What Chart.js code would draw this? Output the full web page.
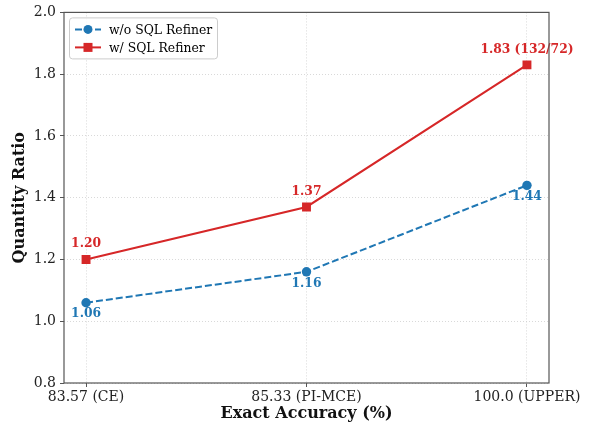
<!DOCTYPE html>
<html><head><meta charset="utf-8">
<script src="https://cdn.jsdelivr.net/npm/chart.js@4/dist/chart.umd.min.js"></script>
<style>html,body{margin:0;padding:0;background:#fff}#wrap{width:592px;height:428px}</style>
</head><body><div id="wrap"><canvas id="c" width="592" height="428"></canvas></div>
<script>
const categories = ["83.57 (CE)", "85.33 (PI-MCE)", "100.0 (UPPER)"];
const seriesNames = ["w/o SQL Refiner", "w/ SQL Refiner"];
const withoutRefiner = [1.06, 1.16, 1.44];
const withRefiner = [1.20, 1.37, 1.83];
const withoutLabels = ["1.06", "1.16", "1.44"];
const withLabels = ["1.20", "1.37", "1.83 (132/72)"];
const yTicks = [0.8, 1.0, 1.2, 1.4, 1.6, 1.8, 2.0];
const xTitle = "Exact Accuracy (%)";
const yTitle = "Quantity Ratio";

const BLUE = '#1f77b4', RED = '#d62728';
const FONT = "'DejaVu Serif', serif";

const toPts = arr => arr.map((v, i) => ({x: i, y: v}));

const valueLabels = {
  id: 'valueLabels',
  afterDatasetsDraw(chart) {
    const ctx = chart.ctx;
    ctx.save();
    ctx.font = "bold 12.3px " + FONT;
    ctx.textAlign = 'center';
    ctx.textBaseline = 'middle';
    const cfg = [{labels: withoutLabels, dy: 11.5, color: BLUE}, {labels: withLabels, dy: -15.5, color: RED}];
    cfg.forEach((c, di) => {
      const meta = chart.getDatasetMeta(di);
      meta.data.forEach((pt, i) => {
        ctx.fillStyle = c.color;
        ctx.fillText(c.labels[i], pt.x, pt.y + c.dy);
      });
    });
    ctx.restore();
  }
};

const frameLegend = {
  id: 'frameLegend',
  afterDraw(chart) {
    const ctx = chart.ctx;
    const a = chart.chartArea;
    ctx.save();
    ctx.strokeStyle = '#555';
    ctx.lineWidth = 1.2;
    ctx.strokeRect(a.left, a.top, a.right - a.left, a.bottom - a.top);
    // legend
    const lx = a.left + 5.5, ly = a.top + 5.5, lw = 148, lh = 41;
    ctx.beginPath();
    if (ctx.roundRect) ctx.roundRect(lx, ly, lw, lh, 3); else ctx.rect(lx, ly, lw, lh);
    ctx.fillStyle = 'rgba(255,255,255,0.85)';
    ctx.fill();
    ctx.strokeStyle = '#cccccc';
    ctx.lineWidth = 1;
    ctx.stroke();
    const items = [
      {name: seriesNames[0], color: BLUE, dash: [7, 3], shape: 'circle'},
      {name: seriesNames[1], color: RED, dash: [], shape: 'square'}
    ];
    items.forEach((it, i) => {
      const cy = a.top + 17 + i * 18;
      const x0 = a.left + 11, x1 = a.left + 37, xm = (x0 + x1) / 2;
      ctx.strokeStyle = it.color;
      ctx.lineWidth = 2;
      ctx.setLineDash(it.dash);
      ctx.beginPath(); ctx.moveTo(x0, cy); ctx.lineTo(x1, cy); ctx.stroke();
      ctx.setLineDash([]);
      ctx.fillStyle = it.color;
      if (it.shape === 'circle') { ctx.beginPath(); ctx.arc(xm, cy, 4.5, 0, Math.PI * 2); ctx.fill(); }
      else ctx.fillRect(xm - 4.5, cy - 4.5, 9, 9);
      ctx.fillStyle = '#000';
      ctx.font = "12.4px " + FONT;
      ctx.textAlign = 'left';
      ctx.textBaseline = 'middle';
      ctx.fillText(it.name, a.left + 45, cy + 1);
    });
    ctx.restore();
  }
};

const gridOpts = {color: '#cfcfcf', lineWidth: 0.8, drawTicks: true, tickLength: 4, tickColor: '#555', tickWidth: 1, tickBorderDash: []};
const borderOpts = {display: false, dash: [1, 2]};

new Chart(document.getElementById('c'), {
  type: 'line',
  data: {
    datasets: [
      {label: seriesNames[0], data: toPts(withoutRefiner), borderColor: BLUE, backgroundColor: BLUE,
       borderWidth: 2, borderDash: [7, 3], pointStyle: 'circle', pointRadius: 4.7, pointHoverRadius: 4.7, pointBorderWidth: 0, tension: 0},
      {label: seriesNames[1], data: toPts(withRefiner), borderColor: RED, backgroundColor: RED,
       borderWidth: 2, pointStyle: 'rect', pointRadius: 6.3, pointHoverRadius: 6.3, pointBorderWidth: 0, tension: 0}
    ]
  },
  options: {
    responsive: false,
    animation: false,
    layout: {padding: {left: 0, top: 7, right: 43, bottom: 0}},
    plugins: {legend: {display: false}, tooltip: {enabled: false}},
    scales: {
      x: {
        type: 'linear', min: -0.1, max: 2.1,
        afterBuildTicks: s => { s.ticks = categories.map((_, i) => ({value: i})); },
        afterFit: s => { s.height = 45; },
        ticks: {callback: v => categories[v], color: '#222', font: {family: FONT, size: 14}, padding: 2, maxRotation: 0, autoSkip: false},
        grid: gridOpts,
        border: borderOpts,
        title: {display: true, text: xTitle, color: '#111', font: {family: FONT, size: 16, weight: 'bold'}, padding: {top: 0, bottom: 5}}
      },
      y: {
        min: 0.8, max: 2.0,
        afterBuildTicks: s => { s.ticks = yTicks.map(v => ({value: v})); },
        afterFit: s => { s.width = 64; },
        ticks: {callback: v => v.toFixed(1), color: '#222', font: {family: FONT, size: 14}, padding: 4},
        grid: gridOpts,
        border: borderOpts,
        title: {display: true, text: yTitle, color: '#111', font: {family: FONT, size: 16, weight: 'bold'}, padding: {top: 10, bottom: 0}}
      }
    }
  },
  plugins: [valueLabels, frameLegend]
});
</script></body></html>
